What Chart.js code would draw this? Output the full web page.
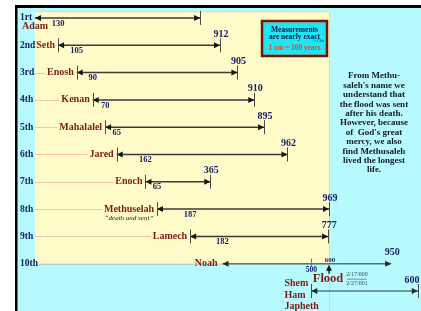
<!DOCTYPE html>
<html><head><meta charset="utf-8">
<script src="https://cdn.jsdelivr.net/npm/chart.js@4/dist/chart.umd.min.js"></script>
<style>html,body{margin:0;padding:0;background:#fff}canvas{display:block}</style>
</head><body>
<canvas id="c" width="421" height="311"></canvas>
<script>
// ---- data ----
const ordinals   = ['1rt','2nd','3rd','4th','5th','6th','7th','8th','9th','10th',''];
const names      = ['Adam','Seth','Enosh','Kenan','Mahalalel','Jared','Enoch','Methuselah','Lamech','Noah','Shem'];
const birthYears = [0,130,235,325,395,460,622,687,874,1056,1556];
const lifespans  = [930,912,905,910,895,962,365,969,777,950,600];
const fatherAges = [130,105,90,70,65,162,65,187,182,500,null];
const floodYear = 1656;
const noahAgeAtFlood = 600;
const floodDates = ['2/17/600','2/27/601'];
const sons = ['Shem','Ham','Japheth'];
const methuselahMeaning = '\u201Cdeath and sent\u201D';
const boxLines = ['Measurements','are nearly exact','1 cm = 100 years'];
const noteLines = ['From Methu-',"saleh's name we",'understand that','the flood was sent','after his death.','However, because',"of  God's great",'mercy, we also','find Methusaleh','lived the longest','life.'];

// ---- style ----
const SERIF = '"Liberation Serif","Times New Roman",serif';
const CYAN = '#b7fbff', YELLOW = '#fffcc9';
const NAVY = '#16206a', MAROON = '#7b1c12';

function tri(ctx, x, y, dx, dy, len, half) {
  ctx.beginPath();
  ctx.moveTo(x, y);
  ctx.lineTo(x - dx*len - dy*half, y - dy*len - dx*half);
  ctx.lineTo(x - dx*len + dy*half, y - dy*len + dx*half);
  ctx.closePath();
  ctx.fill();
}

const decor = {
  id: 'decor',
  beforeDraw(chart) {
    const {ctx, scales:{x, y}} = chart;
    const W = chart.width, H = chart.height;
    ctx.save();
    ctx.fillStyle = '#fff'; ctx.fillRect(0,0,W,H);
    ctx.fillStyle = CYAN; ctx.fillRect(16,7,W-16,H-7);
    const px0 = x.getPixelForValue(0), px1 = x.getPixelForValue(floodYear);
    const py0 = y.getPixelForValue(-0.25), py1 = y.getPixelForValue(9);
    ctx.fillStyle = YELLOW; ctx.fillRect(px0, py0, px1-px0, py1-py0);
    ctx.strokeStyle = '#e9cfb6'; ctx.lineWidth = 1;
    ctx.beginPath();
    ctx.moveTo(px0, py0+0.5); ctx.lineTo(px1+0.5, py0+0.5); ctx.lineTo(px1+0.5, H);
    ctx.stroke();
    ctx.strokeStyle = '#b9ccd6';
    ctx.beginPath(); ctx.moveTo(px0 + 4, py1+0.5); ctx.lineTo(px1, py1+0.5); ctx.stroke();
    ctx.fillStyle = '#000';
    ctx.fillRect(15,5,W-15,3);
    ctx.fillRect(15,5,2.5,H-5);
    ctx.restore();
  },
  afterDatasetsDraw(chart) {
    const {ctx, scales:{x, y}} = chart;
    const W = chart.width;
    const px0 = x.getPixelForValue(0);
    ctx.save();
    ctx.textBaseline = 'middle';
    for (let i = 0; i < names.length; i++) {
      const ry = y.getPixelForValue(i);
      const bx = x.getPixelForValue(birthYears[i]);
      const dx = x.getPixelForValue(birthYears[i] + lifespans[i]);
      const dark = i >= 9 ? '#1d2a2a' : '#141414';
      ctx.fillStyle = dark;
      tri(ctx, bx, ry, -1, 0, 6, 3);
      tri(ctx, dx, ry, 1, 0, 6, 3);
      if (i !== 9) {
        ctx.strokeStyle = '#4a4a4a'; ctx.lineWidth = 1;
        ctx.beginPath();
        ctx.moveTo(Math.round(dx)+0.5, ry-7); ctx.lineTo(Math.round(dx)+0.5, ry+7);
        if (i > 0) { ctx.moveTo(Math.round(bx)+0.5, ry-7); ctx.lineTo(Math.round(bx)+0.5, ry+7); }
        ctx.stroke();
      }
      ctx.font = 'bold 10px ' + SERIF;
      ctx.fillStyle = MAROON;
      if (i === 0) {
        ctx.textAlign = 'left';
        ctx.fillText(names[i], px0 - 13, ry + 8);
      } else if (i === 10) {
        const w = ctx.measureText(sons[0]).width;
        const lx = bx - 3 - w;
        ctx.textAlign = 'left';
        ctx.fillText(sons[0], lx, ry - 8);
        ctx.fillText(sons[1], lx, ry + 4);
        ctx.fillText(sons[2], lx, ry + 15);
      } else {
        const w = ctx.measureText(names[i]).width;
        const right = bx - (i === 9 ? 5 : 3);
        ctx.strokeStyle = i === 9 ? '#b3c8d2' : '#f3c3ac';
        ctx.lineWidth = 1;
        ctx.beginPath(); ctx.moveTo(px0 + (i === 9 ? 4 : 0), Math.round(ry)+0.5); ctx.lineTo(right - w - 2, Math.round(ry)+0.5); ctx.stroke();
        ctx.textAlign = 'right';
        ctx.fillStyle = MAROON;
        ctx.fillText(names[i], right, ry);
        if (i === 7) {
          ctx.font = 'italic 7px ' + SERIF;
          ctx.fillStyle = '#222';
          ctx.textAlign = 'center';
          ctx.fillText(methuselahMeaning, right - w/2, ry + 9);
        }
      }
      if (fatherAges[i] != null) {
        const fx = x.getPixelForValue(birthYears[i] + fatherAges[i]);
        ctx.font = 'bold ' + (i === 9 ? 7.5 : 8.5) + 'px ' + SERIF;
        ctx.fillStyle = NAVY; ctx.textAlign = 'center';
        ctx.fillText(String(fatherAges[i]), fx, ry + (i === 9 ? 6.5 : 5.5));
      }
      // lifespan above the end - Adam's is hidden behind the frame in the original
      if (i > 0) {
        ctx.font = 'bold 10px ' + SERIF;
        ctx.fillStyle = NAVY; ctx.textAlign = 'center';
        const lx = Math.min(dx + 1, W - 9);
        ctx.fillText(String(lifespans[i]), lx, ry - 11);
      }
    }
    const ry9 = y.getPixelForValue(9);
    const fx = x.getPixelForValue(floodYear);
    const sx = x.getPixelForValue(birthYears[10]);
    ctx.strokeStyle = '#e0452a'; ctx.lineWidth = 1;
    ctx.beginPath(); ctx.moveTo(Math.round(sx)+0.5, ry9-5); ctx.lineTo(Math.round(sx)+0.5, ry9+3); ctx.stroke();
    ctx.font = 'bold 7px ' + SERIF; ctx.fillStyle = NAVY; ctx.textAlign = 'center';
    ctx.fillText(String(noahAgeAtFlood), fx + 1, ry9 - 4);
    ctx.strokeStyle = '#111'; ctx.lineWidth = 1.3;
    ctx.beginPath(); ctx.moveTo(fx, ry9 + 10); ctx.lineTo(fx, ry9 + 4); ctx.stroke();
    ctx.fillStyle = '#111';
    tri(ctx, fx, ry9 + 1, 0, -1, 6, 3);
    ctx.font = 'bold 12.5px ' + SERIF; ctx.fillStyle = MAROON; ctx.textAlign = 'center';
    ctx.fillText('Flood', fx - 1, ry9 + 15.5);
    ctx.font = '6px ' + SERIF; ctx.fillStyle = '#34466e';
    ctx.fillText(floodDates[0], fx + 28, ry9 + 11);
    ctx.fillText(floodDates[1], fx + 28, ry9 + 20);
    ctx.strokeStyle = '#34466e'; ctx.lineWidth = 0.6;
    ctx.beginPath(); ctx.moveTo(fx + 18, ry9 + 15.5); ctx.lineTo(fx + 38, ry9 + 15.5); ctx.stroke();

    const bx0 = 262, by0 = 21, bw = 65, bh = 35;
    ctx.fillStyle = '#1fe5f5'; ctx.fillRect(bx0, by0, bw, bh);
    ctx.strokeStyle = '#6a1a0a'; ctx.lineWidth = 2.5; ctx.strokeRect(bx0, by0, bw, bh);
    ctx.strokeStyle = '#c08060'; ctx.lineWidth = 0.6; ctx.strokeRect(bx0+1.8, by0+1.8, bw-3.6, bh-3.6);
    ctx.textAlign = 'center';
    ctx.font = 'bold 7.5px ' + SERIF; ctx.fillStyle = '#0e1a48';
    ctx.fillText(boxLines[0], bx0 + bw/2, by0 + 9);
    ctx.fillText(boxLines[1], bx0 + bw/2, by0 + 16.5);
    ctx.font = '3.5px ' + SERIF; ctx.fillText('+/- 1.2m', bx0 + bw - 9, by0 + 20.5);
    ctx.font = 'bold 7.3px ' + SERIF; ctx.fillStyle = '#e4481c';
    ctx.fillText(boxLines[2], bx0 + bw/2, by0 + 27.5);

    ctx.font = 'bold 9px ' + SERIF; ctx.fillStyle = '#111827';
    noteLines.forEach((t, k) => ctx.fillText(t, 374, 76 + k * 9.4));
    ctx.restore();
  }
};

const datasets = names.map((n, i) => ({
  label: n,
  data: [{x: birthYears[i], y: i}, {x: birthYears[i] + lifespans[i], y: i}],
  showLine: true,
  borderColor: i >= 9 ? '#4d7878' : '#3d3a38',
  borderWidth: 1.5,
  pointRadius: 0,
  clip: false
}));

new Chart(document.getElementById('c'), {
  type: 'scatter',
  data: { datasets },
  options: {
    responsive: false,
    animation: false,
    devicePixelRatio: 1,
    events: [],
    layout: { padding: { left: 20, right: 0, top: 0, bottom: 0 } },
    plugins: { legend: { display: false }, tooltip: { enabled: false } },
    scales: {
      x: { type: 'linear', min: 0, max: 2174, display: false },
      y: {
        type: 'linear', reverse: true, min: -0.659, max: 10.733,
        grid: { display: false }, border: { display: false },
        afterBuildTicks(s) { s.ticks = ordinals.map((_, i) => ({ value: i })); },
        afterFit(s) { s.width = 15; s.paddingTop = 0; s.paddingBottom = 0; },
        ticks: {
          mirror: true, crossAlign: 'near', padding: -15, autoSkip: false,
          font: { family: SERIF, size: 9.5, weight: 'bold' }, color: NAVY,
          callback: (v) => ordinals[v] ?? ''
        }
      }
    }
  },
  plugins: [decor]
});
</script>
</body></html>
